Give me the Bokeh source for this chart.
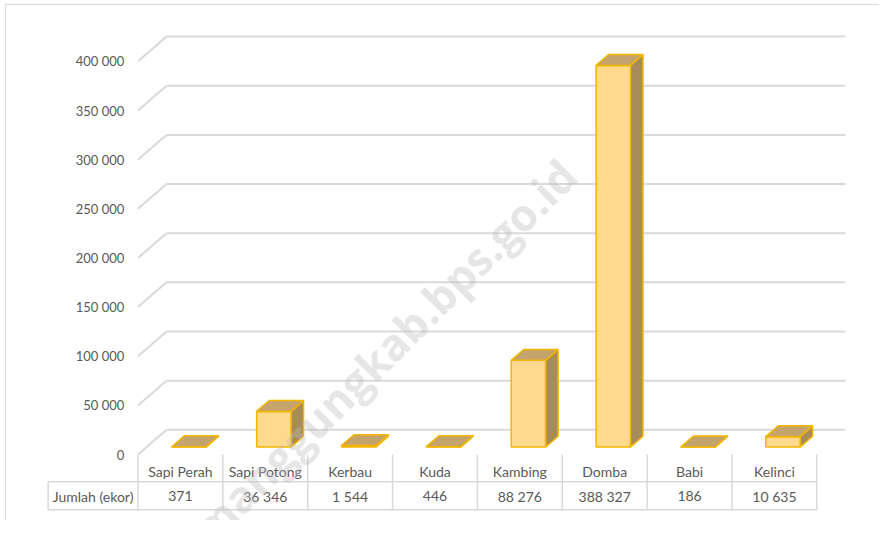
import numpy as np
from bokeh.plotting import figure
from bokeh.models import Range1d
from bokeh.embed import file_html
from bokeh.resources import INLINE
from bokeh.core.properties import value

# ---------------- data ----------------
categories = ["Sapi Perah", "Sapi Potong", "Kerbau", "Kuda", "Kambing", "Domba", "Babi", "Kelinci"]
counts = [371, 36346, 1544, 446, 88276, 388327, 186, 10635]
count_labels = ["371", "36 346", "1 544", "446", "88 276", "388 327", "186", "10 635"]
y_ticks = [0, 50000, 100000, 150000, 200000, 250000, 300000, 350000, 400000]
y_tick_labels = ["0", "50 000", "100 000", "150 000", "200 000", "250 000", "300 000", "350 000", "400 000"]
row_label = "Jumlah (ekor)"
watermark = "temanggungkab.bps.go.id"

# ---------------- layout constants ----------------
W, H = 879, 520           # figure size
REF_W, REF_H = 895, 536   # layout designed on this canvas, scaled into figure
PX_PER_CAT = 86.4     # pixels per category cell
X0 = 140.0            # x of front-left corner of floor
Y0 = 468.0            # y of zero on the front plane
VAL_PER_PX = 987.0    # value units per pixel


def ux(px):
    return (px - X0) / PX_PER_CAT


def vy(py):
    return (Y0 - py) * VAL_PER_PX


DX = 29.0 / PX_PER_CAT          # depth offset (x, data units)
DY = 25.5 * VAL_PER_PX          # depth offset (y, data units)
T1, T2 = 0.30, 0.74             # bar front/back depth fractions
BAR_W = 35.0 / PX_PER_CAT

GRID = "#D9D9D9"
TXT = "#595959"
FONT = value("Lato")

p = figure(width=W, height=H, output_backend="svg", toolbar_location=None,
           x_range=Range1d(ux(0), ux(REF_W)),
           y_range=Range1d(vy(REF_H), vy(0)),
           x_axis_type=None, y_axis_type=None, min_border=0)
p.outline_line_color = None
p.background_fill_color = "white"
p.border_fill_color = "white"

n = len(categories)

# chart border (left and top)
p.segment(x0=[ux(5), ux(5)], y0=[vy(REF_H), vy(4)],
          x1=[ux(5), ux(REF_W)], y1=[vy(4), vy(4)],
          line_color=GRID, line_width=1)

# gridlines: back wall + left side wall diagonals
yt = np.array(y_ticks, dtype=float)
p.segment(x0=[DX] * len(yt), y0=yt + DY, x1=[n + DX] * len(yt), y1=yt + DY,
          line_color=GRID, line_width=2)
p.segment(x0=[0] * len(yt), y0=yt, x1=[DX] * len(yt), y1=yt + DY,
          line_color=GRID, line_width=2)

# y tick labels
p.text(x=[ux(126)] * len(yt), y=yt, text=y_tick_labels, text_align="right",
       text_baseline="middle", text_font=FONT, text_font_size="13px", text_color=TXT)

# bars
front_xs, front_ys, top_xs, top_ys, side_xs, side_ys = [], [], [], [], [], []
dd = (T2 - T1) * DX
ddy = (T2 - T1) * DY
for i, v in enumerate(counts):
    c = i + 0.5
    cf = c + T1 * DX
    xl, xr = cf - BAR_W / 2, cf + BAR_W / 2
    yb = T1 * DY
    yt_ = v + T1 * DY
    front_xs.append([xl, xr, xr, xl])
    front_ys.append([yb, yb, yt_, yt_])
    top_xs.append([xl, xr, xr + dd, xl + dd])
    top_ys.append([yt_, yt_, yt_ + ddy, yt_ + ddy])
    side_xs.append([xr, xr + dd, xr + dd, xr])
    side_ys.append([yb, yb + ddy, yt_ + ddy, yt_])

EDGE = "#F2B600"
p.patches(side_xs, side_ys, fill_color="#A88B5A", line_color=EDGE, line_width=1.5)
p.patches(front_xs, front_ys, fill_color="#FFD98E", line_color=EDGE, line_width=1.5)
p.patches(top_xs, top_ys, fill_color="#C4A46C", line_color=EDGE, line_width=1.5)

# data table
xs_v = list(range(n + 1))
p.segment(x0=xs_v, y0=[vy(468)] * (n + 1), x1=xs_v, y1=[vy(525)] * (n + 1),
          line_color=GRID, line_width=1.5)
p.segment(x0=[ux(48.5)], y0=[vy(496)], x1=[ux(48.5)], y1=[vy(525)],
          line_color=GRID, line_width=1.5)
p.segment(x0=[ux(48.5)] * 2, y0=[vy(496), vy(525)], x1=[n] * 2, y1=[vy(496), vy(525)],
          line_color=GRID, line_width=1.5)

centers = [i + 0.5 for i in range(n)]
p.text(x=centers, y=[vy(486)] * n, text=categories, text_align="center",
       text_baseline="middle", text_font=FONT, text_font_size="14px", text_color=TXT)
p.text(x=centers, y=[vy(511)] * n, text=count_labels, text_align="center",
       text_baseline="middle", text_font=FONT, text_font_size="14px", text_color=TXT)
p.text(x=[(ux(48.5) + 0) / 2], y=[vy(511)], text=[row_label], text_align="center",
       text_baseline="middle", text_font=FONT, text_font_size="14px", text_color=TXT)

# watermark
p.text(x=[ux(578)], y=[vy(172)], text=[watermark], angle=np.pi / 4,
       text_align="right", text_baseline="middle", text_font=value("Open Sans"),
       text_font_style="bold", text_font_size="44px", text_color="#BDBDBD", text_alpha=0.4)

open("out.html", "w").write(file_html(p, INLINE))
